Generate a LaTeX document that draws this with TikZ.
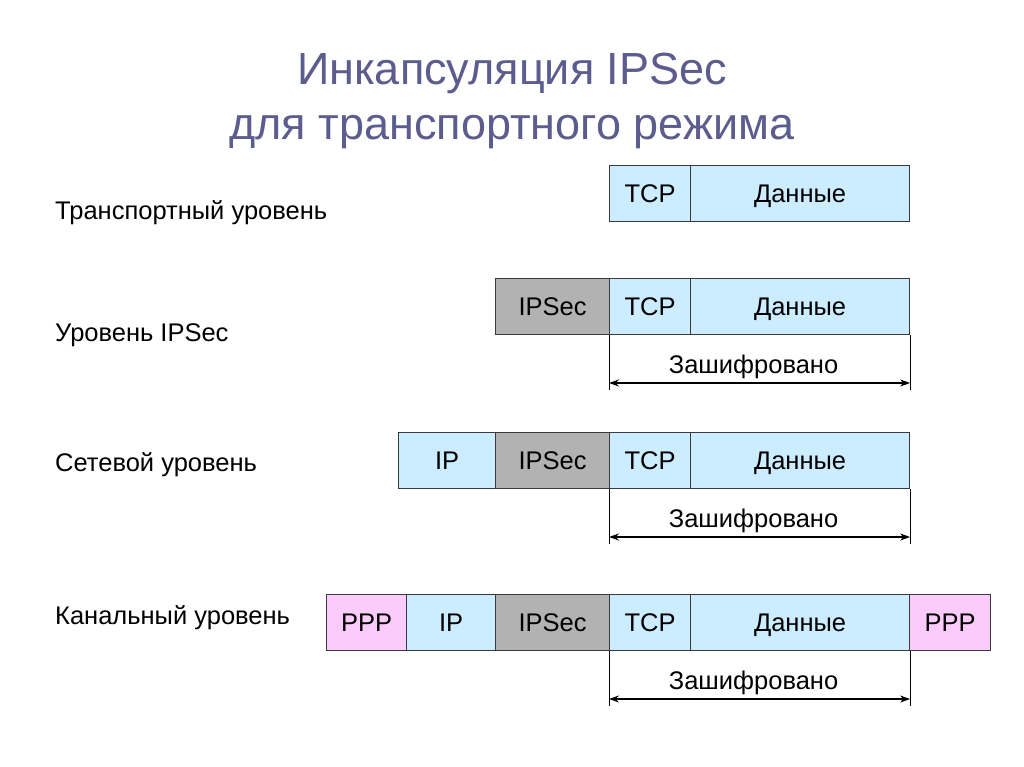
\documentclass[tikz,border=0pt]{standalone}
\usepackage{fontspec}
\setmainfont{Liberation Sans}
\usetikzlibrary{arrows.meta,calc}
\definecolor{titlec}{HTML}{5C5C8E}
\definecolor{lblue}{HTML}{CCECFF}
\definecolor{lgray}{HTML}{B2B2B2}
\definecolor{lpink}{HTML}{FBCCFB}
\definecolor{edge}{HTML}{3A3A3A}
\begin{document}
\begin{tikzpicture}[x=1pt,y=-1pt,
  cell/.style={draw=edge, line width=1.1pt, anchor=north west, inner sep=0pt, text height=18.5pt, text depth=-1pt, minimum height=56pt, font=\fontsize{25.5}{28}\selectfont},
  bl/.style={cell, fill=lblue},
  gr/.style={cell, fill=lgray},
  pk/.style={cell, fill=lpink},
  lbl/.style={anchor=base west, inner sep=0pt, font=\fontsize{25.5}{28}\selectfont},
  enc/.style={anchor=base, inner sep=0pt, font=\fontsize{25.5}{28}\selectfont},
  dim/.style={line width=1.1pt, {Stealth[length=10pt,width=7pt]}-{Stealth[length=10pt,width=7pt]}},
  tick/.style={line width=1pt}]
\useasboundingbox (0,0) rectangle (1024,767);
\fill[white] (0,0) rectangle (1024,767);
% title
\node[titlec, font=\fontsize{45}{55}\selectfont, align=center] (title) at (512,101) {Инкапсуляция IPSec\\для транспортного режима};
% labels
\node[lbl] (l1) at (55,219) {Транспортный уровень};
\node[lbl] (l2) at (55,341) {Уровень IPSec};
\node[lbl] (l3) at (55,471) {Сетевой уровень};
\node[lbl] (l4) at (55,624) {Канальный уровень};
% row 1
\node[bl, minimum width=81pt] (r1tcp) at (609,165) {TCP};
\node[bl, minimum width=219pt] (r1dat) at (690,165) {Данные};
% row 2
\node[gr, minimum width=114pt] (r2ips) at (495,278) {IPSec};
\node[bl, minimum width=81pt] (r2tcp) at (609,278) {TCP};
\node[bl, minimum width=219pt] (r2dat) at (690,278) {Данные};
% row 3
\node[bl, minimum width=97pt] (r3ip) at (398,432) {IP};
\node[gr, minimum width=114pt] (r3ips) at (495,432) {IPSec};
\node[bl, minimum width=81pt] (r3tcp) at (609,432) {TCP};
\node[bl, minimum width=219pt] (r3dat) at (690,432) {Данные};
% row 4
\node[pk, minimum width=80pt] (r4ppa) at (326,594) {PPP};
\node[bl, minimum width=89pt] (r4ip) at (406,594) {IP};
\node[gr, minimum width=114pt] (r4ips) at (495,594) {IPSec};
\node[bl, minimum width=81pt] (r4tcp) at (609,594) {TCP};
\node[bl, minimum width=219pt] (r4dat) at (690,594) {Данные};
\node[pk, minimum width=81pt] (r4ppb) at (909,594) {PPP};
% encrypted spans
\foreach \r/\y in {2/383,3/537,4/699}{
  \coordinate (a\r) at (r\r tcp.south west |- 0,\y);
  \coordinate (b\r) at (r\r dat.south east |- 0,\y);
  \draw[tick] (r\r tcp.south west) -- ([yshift=-7pt]a\r);
  \draw[tick] (r\r dat.south east) -- ([yshift=-7pt]b\r);
  \draw[dim] (a\r) -- (b\r);
  \node[enc] (e\r) at ($(a\r)!0.5!(b\r)+(-6,-10)$) {Зашифровано};
}
\end{tikzpicture}
\end{document}
